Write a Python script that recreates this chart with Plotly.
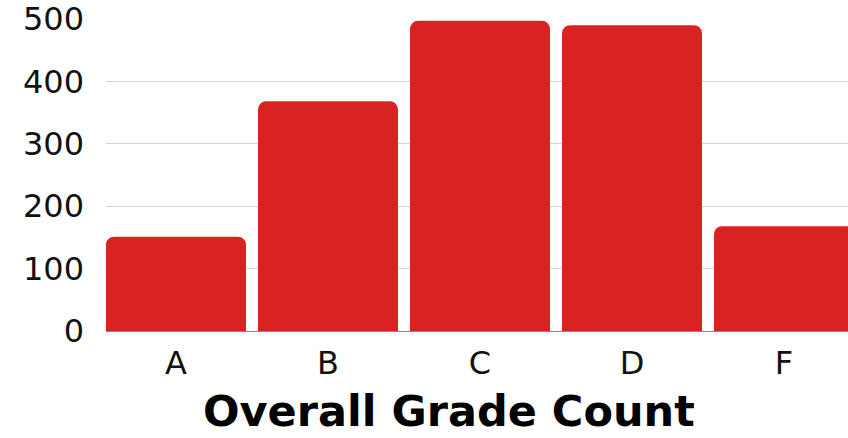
import plotly.graph_objects as go

grades = ["A", "B", "C", "D", "F"]
counts = [151, 368, 497, 490, 168]
y_ticks = [0, 100, 200, 300, 400, 500]

fig = go.Figure(go.Bar(x=grades, y=counts, marker_color="#D92323",
                       marker_line_width=0))
fig.update_layout(
    width=848, height=438,
    margin=dict(l=106, r=0, t=19, b=107),
    plot_bgcolor="white", paper_bgcolor="white",
    bargap=0.079, barcornerradius=8,
    font=dict(family="DejaVu Sans", color="#111"),
    showlegend=False,
)
fig.update_xaxes(range=[-0.4605, 4.421], showgrid=False, showline=False,
                 ticks="", tickfont=dict(size=32), ticklabelstandoff=10)
fig.update_yaxes(range=[0, 500], tickvals=y_ticks, gridcolor="#d4d4d4",
                 gridwidth=1, zeroline=True, zerolinecolor="#888", zerolinewidth=1,
                 tickfont=dict(size=32), ticklabelstandoff=21, showline=False)
fig.add_annotation(text="<b>Overall Grade Count</b>", xref="paper", yref="paper",
                   x=(449 - 106) / 742, y=-(411 - 331) / 312, showarrow=False,
                   font=dict(size=43, family="DejaVu Sans", color="#000"),
                   xanchor="center", yanchor="middle")
fig.write_html("out.html", config={"displayModeBar": False},
               post_script="document.body.style.margin='0';")
